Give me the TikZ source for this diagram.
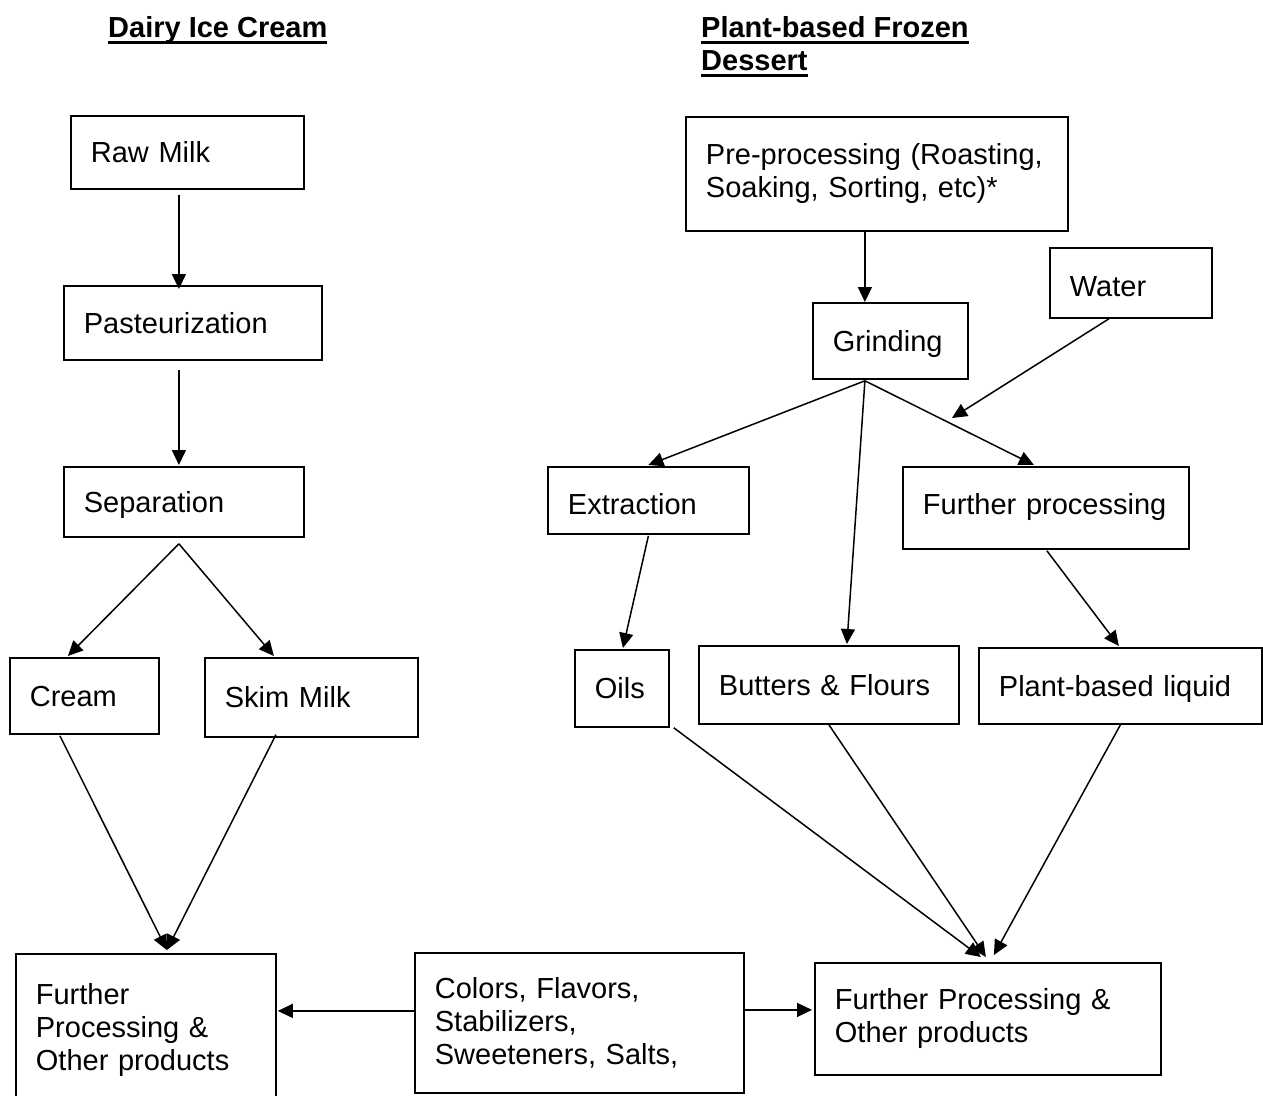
\documentclass[tikz,border=0pt]{standalone}
\usepackage{fontspec}
\setmainfont{Liberation Sans}
\usetikzlibrary{arrows.meta,calc}
\newcommand\fsz{\fontsize{29}{33}\selectfont}
\newcommand\ttlul[1]{\leavevmode\setbox0\hbox{#1}\rlap{\rule[-6.5pt]{\wd0}{2.8pt}}\box0}
\begin{document}
\begin{tikzpicture}[x=1pt,y=-1pt,
  box/.style={draw, line width=1.8pt, anchor=north west, inner xsep=20pt, inner ysep=0pt, align=left, font=\fsz},
  one/.style={text height=21pt, text depth=0pt},
  arr/.style={line width=1.5pt, -{Triangle[length=15pt,width=14pt]}},
  ttl/.style={inner sep=0pt, font=\fsz\bfseries, align=left}]
\useasboundingbox[fill=white] (0,0) rectangle (1263,1095);

% titles
\node[ttl,anchor=base west] (t1) at (108,37) {\ttlul{Dairy Ice Cream}};
\node[ttl,anchor=north west] (t2) at (701,16) {\ttlul{Plant-based Frozen}\\\ttlul{Dessert}};

% dairy column
\node[box,one,text width=193pt,minimum height=73pt] (raw) at (70,115) {\mbox{Raw Milk}};
\node[box,one,text width=218pt,minimum height=74pt] (past) at (63,285) {\mbox{Pasteurization}};
\node[box,one,text width=200pt,minimum height=70pt] (sep) at (63,466) {\mbox{Separation}};
\node[box,one,text width=109pt,minimum height=76pt] (cream) at (9,657) {\mbox{Cream}};
\node[box,one,text width=173pt,minimum height=79pt] (skim) at (204,657) {\mbox{Skim Milk}};
\node[box,text width=220pt,minimum height=152pt] (furL) at (15,953) {\mbox{Further}\\\mbox{Processing \&}\\\mbox{Other products}};
\node[box,text width=289pt,minimum height=140pt] (col) at (414,952) {\mbox{Colors, Flavors,}\\\mbox{Stabilizers,}\\\mbox{Sweeteners, Salts,}};
\node[box,text width=306pt,minimum height=112pt] (furR) at (814,962) {\mbox{Further Processing \&}\\\mbox{Other products}};

% plant column
\node[box,text width=342pt,minimum height=114pt] (pre) at (685,116) {\mbox{Pre-processing (Roasting,}\\\mbox{Soaking, Sorting, etc)*}};
\node[box,one,text height=27.8pt,text width=122pt,minimum height=70pt] (water) at (1049,247) {\mbox{Water}};
\node[box,one,text width=115pt,minimum height=76pt] (grind) at (812,302) {\mbox{Grinding}};
\node[box,one,text height=28.8pt,text width=161pt,minimum height=67pt] (extr) at (547,466) {\mbox{Extraction}};
\node[box,one,text height=13.8pt,text width=246pt,minimum height=82pt] (fproc) at (902,466) {\mbox{Further processing}};
\node[box,one,text width=54pt,minimum height=77pt] (oils) at (574,649) {\mbox{Oils}};
\node[box,one,text width=220pt,minimum height=78pt] (butt) at (698,645) {\mbox{Butters \& Flours}};
\node[box,one,text width=243pt,minimum height=76pt] (plant) at (978,647) {\mbox{Plant-based liquid}};

% dairy arrows
\draw[arr] ([xshift=-8.5pt,yshift=-5pt]raw.south) -- ([xshift=-14pt,yshift=-4pt]past.north);
\draw[arr] ([xshift=-14pt,yshift=-9pt]past.south) -- ([xshift=-5pt,yshift=1pt]sep.north);
\coordinate (sepj) at ([xshift=-5pt,yshift=-6pt]sep.south);
\draw[arr] (sepj) -- ([xshift=-16.5pt,yshift=1pt]cream.north);
\draw[arr] (sepj) -- ([xshift=-37.5pt,yshift=1pt]skim.north);
\coordinate (furLin) at ([xshift=21pt,yshift=3pt]furL.north);
\draw[arr] ([xshift=-24.5pt,yshift=-1pt]cream.south) -- (furLin);
\draw[arr] ([xshift=-35.5pt,yshift=3pt]skim.south) -- (furLin);
\draw[arr] ([yshift=12pt]col.west) -- ([xshift=1pt,yshift=19pt]furL.east);
\draw[arr] ([yshift=13pt]col.east) -- ([xshift=-2pt,yshift=9pt]furR.west);

% plant arrows
\draw[arr] ([xshift=-12pt]pre.south) -- ([xshift=-25.5pt]grind.north);
\coordinate (wj) at (952,418);
\draw[arr] ([xshift=-22pt]water.south) -- (wj);
\coordinate (grj) at ([xshift=-25.5pt,yshift=-1pt]grind.south);
\draw[arr] (grj) -- ([yshift=1pt]extr.north);
\draw[arr] (grj) -- ([xshift=18pt,yshift=1pt]butt.north);
\draw[arr] (grj) -- ([xshift=-12pt,yshift=1pt]fproc.north);
\draw[arr] ([yshift=-1pt]extr.south) -- ([xshift=1pt,yshift=1pt]oils.north);
\draw[arr] ([xshift=1pt,yshift=-1pt]fproc.south) -- ([xshift=-1.5pt,yshift=1pt]plant.north);
\draw[arr] ([xshift=4pt]oils.south east) -- ([xshift=-7pt,yshift=5pt]furR.north);
\draw[arr] (butt.south) -- ([xshift=-2pt,yshift=5pt]furR.north);
\draw[arr] (plant.south) -- ([xshift=6pt,yshift=7pt]furR.north);
\end{tikzpicture}
\end{document}
